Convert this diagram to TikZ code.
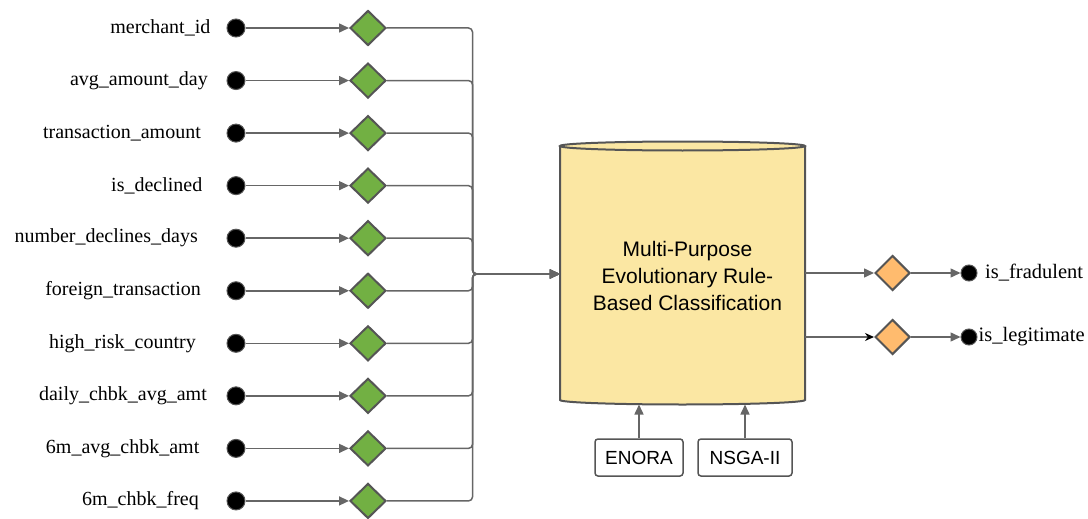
\documentclass[tikz,border=0pt]{standalone}
\usepackage{fontspec}
\setmainfont{Liberation Serif}
\newfontfamily\arialf{Liberation Sans}
\usetikzlibrary{shapes.geometric,arrows.meta,calc}
\definecolor{lgray}{HTML}{666666}
\definecolor{dgray}{HTML}{555555}
\definecolor{gfill}{HTML}{72B043}
\definecolor{ofill}{HTML}{FFBB6E}
\definecolor{cfill}{HTML}{FBE7A3}
\tikzset{
  lbl/.style={anchor=east,inner sep=0pt,font=\fontsize{20}{22}\selectfont},
  dot/.style={circle,fill=black,draw=dgray,line width=1pt,minimum size=18pt,inner sep=0pt},
  gdia/.style={diamond,fill=gfill,draw=dgray,line width=2pt,minimum width=36pt,minimum height=35pt,inner sep=0pt},
  odia/.style={diamond,fill=ofill,draw=dgray,line width=2pt,minimum width=35pt,minimum height=35pt,inner sep=0pt},
  conn/.style={draw=lgray,line width=1.5pt,-{Triangle[length=10pt,width=9pt]}},
  bus/.style={draw=lgray,line width=1.5pt,rounded corners=4pt,-{Triangle[length=10pt,width=9pt]}},
  algbox/.style={draw=dgray,line width=1.5pt,rounded corners=3pt,fill=white,inner sep=0pt,font=\arialf\fontsize{19}{22}\selectfont},
}
\begin{document}
\begin{tikzpicture}[x=1pt,y=-1pt]
\useasboundingbox (0,0) rectangle (1088,519);
% cylinder body
\node[inner sep=0pt,minimum width=245pt,minimum height=254pt] (cyl) at (682.5,273) {};
\fill[cfill] (560,146) -- (560,400) arc[start angle=180,end angle=360,x radius=122.5pt,y radius=4.5pt] -- (805,146) -- cycle;
\draw[dgray,line width=2pt] (560,146) -- (560,400) arc[start angle=180,end angle=360,x radius=122.5pt,y radius=4.5pt] -- (805,146);
\draw[dgray,line width=2pt,fill=cfill] (682.5,146) ellipse[x radius=122.5pt,y radius=4.5pt];
\node[align=center,inner sep=0pt,font=\arialf\fontsize{21}{27}\selectfont] (ctext) at (687.5,276) {Multi-Purpose\\Evolutionary Rule-\\Based Classification};
% inputs
\foreach \i/\t/\e in {0/merchant\_id/210.5,1/avg\_amount\_day/208,2/transaction\_amount/201,3/is\_declined/202.5,4/number\_declines\_days/198,5/foreign\_transaction/201,6/high\_risk\_country/196,7/daily\_chbk\_avg\_amt/207,8/6m\_avg\_chbk\_amt/199.5,9/6m\_chbk\_freq/199}{
  \pgfmathsetmacro{\yy}{28+52.55*\i}
  \node[lbl] (l\i) at (\e,\yy) {\t};
  \node[dot] (d\i) at (236,\yy) {};
  \node[gdia] (g\i) at (368,\yy) {};
  \draw[conn] (d\i) -- (g\i);
  \draw[bus] (g\i.east) -- (472.5,\yy) -- (472.5,274) -- (cyl.west |- 0,274);
}
% outputs
\node[odia] (o1) at (892.5,273) {};
\node[odia] (o2) at (892.5,337) {};
\node[dot,minimum size=16pt] (r1) at (969,273) {};
\node[dot,minimum size=16pt] (r2) at (969,337) {};
\node[anchor=west,inner sep=0pt,font=\fontsize{20.5}{22}\selectfont] (t1) at (985,273) {is\_fradulent};
\node[anchor=west,inner sep=0pt,font=\fontsize{20.5}{22}\selectfont] (t2) at (978.5,337) {is\_legitimate};
\draw[conn] (cyl.east |- o1) -- (o1);
\draw[draw=lgray,line width=1.5pt,-{Stealth[length=9pt,width=8pt,black]}] (cyl.east |- o2) -- (o2);
\draw[conn] (o1) -- (r1);
\draw[conn] (o2) -- (r2);
% algorithms
\node[algbox,minimum width=88pt,minimum height=37pt] (en) at (639,457.5) {ENORA};
\node[algbox,minimum width=94pt,minimum height=37pt] (ns) at (745,457.5) {NSGA-II};
\draw[conn] (en.north) -- (639,404.5);
\draw[conn] (ns.north) -- (745,404.5);
\end{tikzpicture}
\end{document}
